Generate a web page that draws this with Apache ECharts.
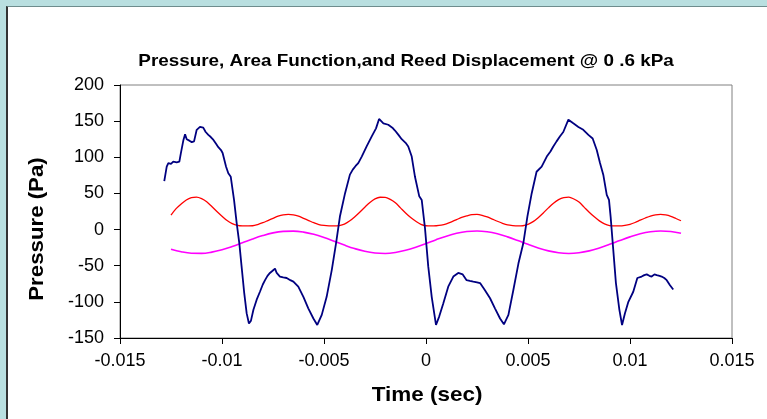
<!DOCTYPE html>
<html>
<head>
<meta charset="utf-8">
<script src="https://cdn.jsdelivr.net/npm/echarts@6/dist/echarts.min.js"></script>
<style>
  html, body { margin: 0; padding: 0; width: 767px; height: 419px; overflow: hidden; background: #b9dfe0; }
  #frame { position: absolute; left: 6px; top: 6px; width: 761px; height: 413px; background: #ffffff;
           border-top: 1px solid #6e8c8d; border-left: 2px solid #333333; box-sizing: border-box; }
  #chart { position: absolute; left: 0; top: 0; width: 767px; height: 419px; }
</style>
</head>
<body>
<div id="frame"></div>
<div id="chart"></div>
<script>
// Tick settings
const xTicks = { min: -0.015, max: 0.015, interval: 0.005 };
const yTicks = { min: -150, max: 200, interval: 50 };

// Pressure (blue) : [time (s), pressure (Pa)]
const pressure = [
  [-0.01283,67],[-0.01271,87],[-0.01263,92],[-0.01250,91],[-0.01239,94],[-0.01222,93],[-0.01209,94],[-0.01202,105],
  [-0.01189,124],[-0.01181,132],[-0.01173,125],[-0.01160,123],[-0.01148,121],[-0.01137,122],[-0.01124,138],
  [-0.01108,142],[-0.01092,141],[-0.01080,135],[-0.01067,131],[-0.01055,128],[-0.01042,124],[-0.01030,119],[-0.01018,114],
  [-0.01005,110],[-0.00997,106],[-0.00980,87],[-0.00969,78],[-0.00957,73],[-0.00948,55],[-0.00941,41],
  [-0.00928,9],[-0.00915,-19],[-0.00904,-51],[-0.00891,-88],[-0.00879,-116],[-0.00868,-130],
  [-0.00858,-126],[-0.00846,-111],[-0.00830,-97],[-0.00814,-86],[-0.00800,-76],[-0.00789,-70],[-0.00777,-64],[-0.00765,-60],
  [-0.00752,-57],[-0.00740,-54],[-0.00732,-60],[-0.00716,-65],[-0.00700,-66],[-0.00683,-67],[-0.00665,-70],[-0.00650,-72],
  [-0.00626,-79],[-0.00601,-93],[-0.00577,-109],[-0.00552,-123],[-0.00533,-132],[-0.00511,-118],
  [-0.00487,-93],[-0.00462,-56],[-0.00441,-19],[-0.00422,18],[-0.00397,50],[-0.00373,76],[-0.00359,83],
  [-0.00345,88],[-0.00332,92],[-0.00315,101],[-0.00291,115],[-0.00266,129],[-0.00245,140],[-0.00230,153],
  [-0.00209,147],[-0.00185,145],[-0.00165,141],[-0.00152,137],[-0.00135,131],[-0.00119,125],[-0.00100,120],[-0.00087,115],
  [-0.00070,101],[-0.00054,73],[-0.00033,46],[-0.00021,41],[-0.00005,2],[0.00011,-51],[0.00028,-93],
  [0.00049,-132],[0.00065,-120],[0.00085,-102],[0.00109,-79],[0.00134,-65],[0.00158,-60],[0.00180,-62],
  [0.00199,-70],[0.00215,-71],[0.00232,-72],[0.00250,-73],[0.00265,-74],[0.00289,-84],[0.00314,-95],[0.00338,-109],
  [0.00363,-123],[0.00382,-131],[0.00404,-118],[0.00428,-84],[0.00453,-47],[0.00477,-19],[0.00497,18],
  [0.00518,50],[0.00542,80],[0.00567,87],[0.00592,101],[0.00610,108],[0.00624,115],[0.00640,122],[0.00657,129],[0.00673,135],
  [0.00698,152],[0.00722,147],[0.00747,142],[0.00771,138],[0.00796,131],[0.00817,126],[0.00837,110],
  [0.00853,92],[0.00869,76],[0.00886,48],[0.00897,41],[0.00905,18],[0.00918,-28],[0.00931,-74],
  [0.00948,-111],[0.00961,-132],[0.00975,-116],[0.00992,-100],[0.01016,-86],[0.01036,-67],[0.01057,-65],
  [0.01070,-63],[0.01082,-62],[0.01095,-64],[0.01106,-65],[0.01120,-62],[0.01131,-63],[0.01145,-64],[0.01155,-65],[0.01168,-67],[0.01180,-70],[0.01196,-77],[0.01212,-83]
];

// Area function (red) : [time (s), value]
const areaFunction = [
  [-0.0125,20],[-0.01225,29],[-0.012,35.5],[-0.01175,41],[-0.0115,44.2],[-0.01125,44.9],[-0.011,42.8],[-0.01075,38.5],
  [-0.0105,32],[-0.01025,25],[-0.01,18.5],[-0.00975,12.5],[-0.0095,8.2],[-0.00925,5.7],[-0.009,5],[-0.00875,5.1],
  [-0.0085,5.3],[-0.00825,7],[-0.008,9.5],[-0.00775,12.5],[-0.0075,15.5],[-0.00725,18.5],[-0.007,20.4],[-0.00675,21],
  [-0.0065,20.4],[-0.00625,18.5],[-0.006,15.5],[-0.00575,12.5],[-0.0055,9.5],[-0.00525,7],[-0.005,5.8],[-0.00475,5.2],
  [-0.0045,5],[-0.00425,5.5],[-0.004,7.5],[-0.00375,11.8],[-0.0035,17.5],[-0.00325,24],[-0.003,31],[-0.00275,37.5],
  [-0.0025,42.5],[-0.00225,44.7],[-0.002,44.6],[-0.00175,41.7],[-0.0015,37],[-0.00125,30],[-0.001,23],[-0.00075,16.6],
  [-0.0005,11.5],[-0.00025,7.3],[0,5.3],[0.00025,5],[0.0005,5.3],[0.00075,6.2],[0.001,8],[0.00125,10.7],
  [0.0015,13.7],[0.00175,17],[0.002,19],[0.00225,20.7],[0.0025,21],[0.00275,19.8],[0.003,17.5],[0.00325,14.5],
  [0.0035,11.5],[0.00375,8.7],[0.004,6.5],[0.00425,5.5],[0.0045,5],[0.00475,5.3],[0.005,7.2],[0.00525,11],
  [0.0055,16.5],[0.00575,23],[0.006,30],[0.00625,36.5],[0.0065,41.5],[0.00675,44.3],[0.007,44.8],[0.00725,42.3],
  [0.0075,38],[0.00775,31],[0.008,24],[0.00825,17.6],[0.0085,12],[0.00875,7.8],[0.009,5.5],[0.00925,5],
  [0.0095,5],[0.00975,5.8],[0.01,7.3],[0.01025,9.8],[0.0105,13],[0.01075,16],[0.011,18.7],[0.01125,20.4],
  [0.0115,21],[0.01175,20.2],[0.012,18.3],[0.01225,15.3],[0.0125,12.2]
];

// Reed displacement (magenta), sampled times (s)
const sampleTimes = [
  -0.0125,-0.0120,-0.0115,-0.0110,-0.0105,-0.0100,-0.0095,-0.0090,-0.0085,-0.0080,
  -0.0075,-0.0070,-0.0065,-0.0060,-0.0055,-0.0050,-0.0045,-0.0040,-0.0035,-0.0030,
  -0.0025,-0.0020,-0.0015,-0.0010,-0.0005,0,0.0005,0.0010,0.0015,0.0020,
  0.0025,0.0030,0.0035,0.0040,0.0045,0.0050,0.0055,0.0060,0.0065,0.0070,
  0.0075,0.0080,0.0085,0.0090,0.0095,0.0100,0.0105,0.0110,0.0115,0.0120,0.0125
];
const reedDisplacement = [
  -27.2,-30.7,-32.7,-32.9,-31.2,-28.0,-23.5,-18.3,-13.0,-8.3,
  -4.6,-2.5,-2.1,-3.5,-6.6,-11.0,-16.2,-21.5,-26.3,-30.1,
  -32.4,-33.0,-31.7,-28.7,-24.5,-19.4,-14.0,-9.1,-5.2,-2.7,
  -2.0,-3.1,-5.9,-10.1,-15.1,-20.4,-25.4,-29.5,-32.1,-33.0,
  -32.1,-29.5,-25.4,-20.4,-15.1,-10.1,-5.9,-3.1,-2.0,-2.7,-5.2
];

const titleText = 'Pressure, Area Function,and Reed Displacement @ 0 .6 kPa';
const xName = 'Time (sec)';
const yName = 'Pressure (Pa)';

const font = '"Liberation Sans", Arial, sans-serif';
const chart = echarts.init(document.getElementById('chart'), null, { renderer: 'canvas' });

const axisCommon = {
  axisLine: { show: true, onZero: false, lineStyle: { color: '#000000', width: 1 } },
  axisTick: { show: true, inside: false, length: 6, lineStyle: { color: '#000000', width: 1 } },
  splitLine: { show: false },
  axisLabel: { color: '#000000', fontFamily: font, fontSize: 18, margin: 14 }
};

chart.setOption({
  animation: false,
  backgroundColor: 'transparent',
  grid: { left: 120, top: 85, width: 612, height: 253, show: true, borderColor: '#808080', borderWidth: 1, backgroundColor: 'transparent' },
  xAxis: Object.assign({}, axisCommon, {
    type: 'value', min: xTicks.min, max: xTicks.max, interval: xTicks.interval,
    axisLabel: Object.assign({}, axisCommon.axisLabel, { formatter: v => String(+v.toFixed(3)) })
  }),
  yAxis: Object.assign({}, axisCommon, {
    type: 'value', min: yTicks.min, max: yTicks.max, interval: yTicks.interval,
    axisLabel: Object.assign({}, axisCommon.axisLabel, { margin: 16 })
  }),
  graphic: [
    { type: 'text', x: 406, y: 61, scaleX: 1.11, style: { text: titleText, x: 0, y: 0, align: 'center', verticalAlign: 'middle', fill: '#000', font: 'bold 17px ' + font } },
    { type: 'text', x: 427, y: 395, scaleX: 1.07, style: { text: xName, x: 0, y: 0, align: 'center', verticalAlign: 'middle', fill: '#000', font: 'bold 21px ' + font } },
    { type: 'text', x: 37, y: 229, rotation: Math.PI / 2, scaleX: 1.06, style: { text: yName, x: 0, y: 0, align: 'center', verticalAlign: 'middle', fill: '#000', font: 'bold 21px ' + font } }
  ],
  series: [
    { name: 'Pressure', type: 'line', data: pressure, showSymbol: false, smooth: false,
      lineStyle: { color: '#000080', width: 1.8 }, itemStyle: { color: '#000080' }, z: 3 },
    { name: 'Area Function', type: 'line', data: areaFunction, showSymbol: false, smooth: 0.3,
      lineStyle: { color: '#ff0000', width: 1.3 }, itemStyle: { color: '#ff0000' }, z: 2 },
    { name: 'Reed Displacement', type: 'line', data: sampleTimes.map((t, i) => [t, reedDisplacement[i]]), showSymbol: false, smooth: 0.4,
      lineStyle: { color: '#ff00ff', width: 1.6 }, itemStyle: { color: '#ff00ff' }, z: 2 }
  ]
});
</script>
</body>
</html>
